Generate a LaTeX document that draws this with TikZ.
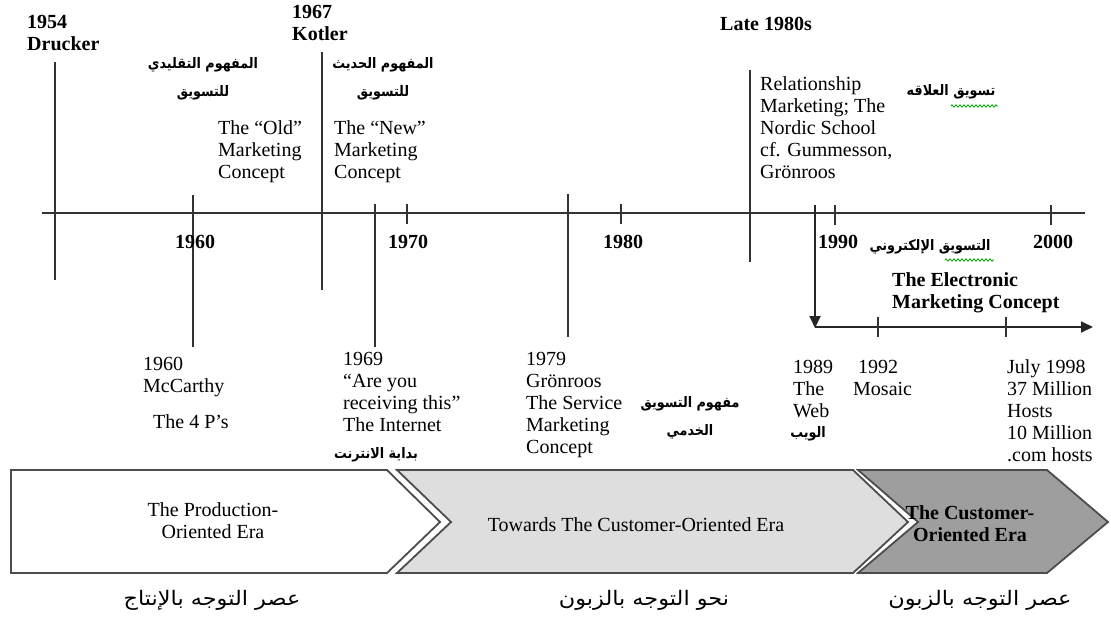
\documentclass[tikz,border=0pt]{standalone}
\usepackage{fontspec}
\setmainfont{Liberation Serif}
\newfontfamily\arabicfont[Script=Arabic,FakeStretch=0.88]{DejaVu Sans}
\newfontfamily\arabicwide[Script=Arabic,FakeStretch=1.12]{DejaVu Sans}
\TeXXeTstate=1
\usetikzlibrary{arrows.meta,decorations.pathmorphing}

\begin{document}
\begin{tikzpicture}[x=1pt,y=-1pt,
  txt/.style={inner sep=0pt, anchor=north west, align=left,
    font=\fontsize{20}{22}\selectfont, execute at begin node=\strut},
  btxt/.style={txt, font=\fontsize{20}{22}\selectfont\bfseries},
  yearlbl/.style={inner sep=0pt, anchor=base west, font=\fontsize{20}{22}\selectfont\bfseries},
  artxt/.style={inner sep=0pt, align=center, font=\arabicfont\bfseries\fontsize{14.5}{28}\selectfont},
  arbig/.style={inner sep=0pt, font=\arabicwide\fontsize{20}{22}\selectfont},
  eratxt/.style={inner sep=0pt, anchor=north, align=center,
    font=\fontsize{20}{22}\selectfont, execute at begin node=\strut},
  tlline/.style={draw=black!80, line width=1.8pt},
  erabox/.style={draw=black!70, line width=1.8pt, line join=miter},
  arrowline/.style={draw=black!85, line width=1.8pt, -{Triangle[length=12pt,width=11pt]}},
  squig/.style={draw=green!60!black, line width=0.8pt, decorate,
    decoration={zigzag, segment length=4pt, amplitude=1.2pt}}
]
\useasboundingbox (0,0) rectangle (1111,619);

% ---- era arrows ----
\draw[erabox, fill=white]
  (11,470) -- (387,470) -- (440,522) -- (387,573) -- (11,573) -- cycle;
\draw[erabox, fill=black!13]
  (397,470) -- (853,470) -- (908,522) -- (853,573) -- (397,573) -- (451,522) -- cycle;
\draw[erabox, fill=black!38]
  (858,470) -- (1047,470) -- (1108,522) -- (1047,573) -- (858,573) -- (918,522) -- cycle;

\node[eratxt] (prod) at (213,502.6) {The Production-\\Oriented Era};
\node[eratxt, anchor=base] (towards) at (636,531) {Towards The Customer-Oriented Era};
\node[eratxt, font=\fontsize{20}{22}\selectfont\bfseries] (cust) at (970,505.6) {The Customer-\\Oriented Era};

\node[arbig] (arprod) at (212,600) {\beginR عصر التوجه بالإنتاج\endR};
\node[arbig] (artow) at (644,600) {\beginR نحو التوجه بالزبون\endR};
\node[arbig] (arcust) at (980,600) {\beginR عصر التوجه بالزبون\endR};

% ---- main time axis ----
\coordinate (axL) at (42,213);
\coordinate (axR) at (1085,213);
\draw[tlline] (axL) -- (axR);

% event markers
\draw[tlline] (55,62) -- (55,280);
\draw[tlline] (193,195) -- (193,347);
\draw[tlline] (322,52) -- (322,290);
\draw[tlline] (375,204) -- (375,347);
\draw[tlline] (568,194) -- (568,337);
\draw[tlline] (750,70) -- (750,262);
% decade ticks
\draw[tlline] (407,204) -- (407,224);
\draw[tlline] (621,204) -- (621,224);
\draw[tlline] (835,205) -- (835,225);
\draw[tlline] (1051,205) -- (1051,225);

% electronic marketing branch
\coordinate (webTop) at (815,205);
\coordinate (webCorner) at (815,328);
\coordinate (eEnd) at (1093,327);
\draw[arrowline] (webTop) -- (webCorner);
\draw[arrowline] (815,327) -- (eEnd);
\draw[tlline] (878,317) -- (878,337);
\draw[tlline] (1006,317) -- (1006,337);

% ---- year labels on the axis ----
\node[yearlbl] (y1960) at (175,248) {1960};
\node[yearlbl] (y1970) at (388,248) {1970};
\node[yearlbl] (y1980) at (603,248) {1980};
\node[yearlbl] (y1990) at (818,248) {1990};
\node[yearlbl] (y2000) at (1033,248) {2000};

% ---- labels above the axis ----
\node[btxt] (drucker) at (27,14.6) {1954\\Drucker};
\node[btxt] (kotler) at (292,4.6) {1967\\Kotler};
\node[btxt] (late) at (720,14.6) {Late 1980s};
\node[artxt] (arold) at (203,79) {\beginR المفهوم التقليدي\endR\\\beginR للتسويق\endR};
\node[artxt] (arnew) at (383,79) {\beginR المفهوم الحديث\endR\\\beginR للتسويق\endR};
\node[txt] (oldc) at (218,120.6) {The “Old”\\Marketing\\Concept};
\node[txt] (newc) at (334,120.6) {The “New”\\Marketing\\Concept};
\node[txt] (relm) at (760,76.6) {Relationship\\Marketing; The\\Nordic School\\cf. Gummesson,\\Grönroos};
\node[artxt] (arrel) at (951,92) {\beginR تسويق العلاقه\endR};
\draw[squig] (951,106) -- (998,106);

% ---- labels below the axis ----
\node[artxt] (arelec) at (930,247) {\beginR التسويق الإلكتروني\endR};
\draw[squig] (945,260) -- (994,260);
\node[btxt] (elec) at (892,272.6) {The Electronic\\Marketing Concept};

\node[txt] (mccarthy) at (143,356.6) {1960\\McCarthy};
\node[txt] (fourp) at (153,412.6) {The 4 P’s};
\node[txt] (internet) at (343,351.6) {1969\\“Are you\\receiving this”\\The Internet};
\node[artxt] (arinternet) at (376,455) {\beginR بداية الانترنت\endR};
\node[txt] (service) at (526,351.6) {1979\\Grönroos\\The Service\\Marketing\\Concept};
\node[artxt] (arservice) at (690,418) {\beginR مفهوم التسويق\endR\\\beginR الخدمي\endR};
\node[txt] (web) at (793,359.6) {1989\\The\\Web};
\node[artxt] (arweb) at (808,434) {\beginR الويب\endR};
\node[txt] (mosaic) at (853,359.6) {\ 1992\\Mosaic};
\node[txt] (hosts) at (1007,359.6) {July 1998\\37 Million\\Hosts\\10 Million\\.com hosts};
\end{tikzpicture}
\end{document}
